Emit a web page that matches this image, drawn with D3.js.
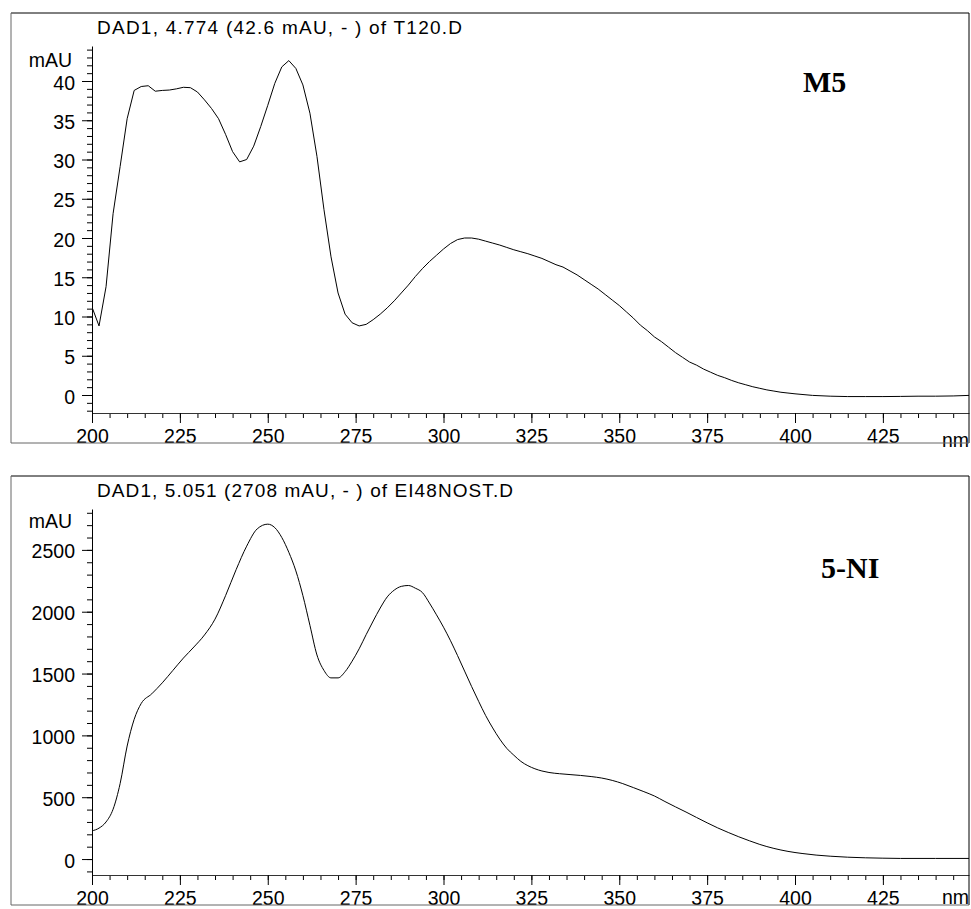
<!DOCTYPE html>
<html>
<head>
<meta charset="utf-8">
<script src="https://cdn.jsdelivr.net/npm/d3@7"></script>
<style>
  body { margin: 0; background: #fff; }
  text { font-family: Arial, "Liberation Sans", sans-serif; }
</style>
</head>
<body>
<div id="chart"></div>
<script>
/* DATA */
const m5Nm = [200,202,204,206,208,210,212,214,216,218,220,222,224,226,228,230,232,234,236,238,240,242,244,246,248,250,252,254,256,258,260,262,264,266,268,270,272,274,276,278,280,282,284,286,288,290,292,294,296,298,300,302,304,306,308,310,312,314,316,318,320,322,324,326,328,330,332,334,336,338,340,342,344,346,348,350,352,354,356,358,360,362,364,366,368,370,372,374,376,378,380,382,384,386,388,390,392,394,396,398,400,405,410,415,420,425,430,435,440,445,449.5];
const m5Abs = [11.2,8.8,13.8,23.1,29.1,35.2,38.8,39.3,39.4,38.7,38.8,38.85,39.0,39.2,39.15,38.6,37.6,36.5,35.2,33.2,31.0,29.7,30.0,31.7,34.2,36.9,39.7,41.8,42.6,41.6,39.5,35.9,30.4,23.6,17.6,13.0,10.3,9.2,8.8,9.0,9.6,10.3,11.1,12.0,13.0,14.0,15.1,16.1,17.0,17.8,18.6,19.3,19.8,20.0,20.0,19.85,19.6,19.35,19.1,18.8,18.5,18.25,18.0,17.7,17.4,17.0,16.6,16.3,15.8,15.3,14.7,14.1,13.5,12.8,12.1,11.4,10.6,9.8,8.9,8.2,7.4,6.8,6.1,5.4,4.8,4.2,3.8,3.3,2.9,2.5,2.2,1.85,1.55,1.3,1.05,0.85,0.65,0.5,0.35,0.25,0.15,-0.05,-0.15,-0.2,-0.2,-0.2,-0.18,-0.15,-0.15,-0.12,-0.05];

const niNm = [200,202,204,206,208,210,212,214,217,220,223,226,229,232,235,238,241,244,247,250,252,254,256,258,260,262,264,266,268,270,272,274,276,278,280,282,284,286,288,290,292,294,296,298,300,302,304,306,308,310,312,314,316,318,320,322,324,326,328,330,333,336,339,342,345,348,351,354,357,360,363,366,369,372,375,378,381,384,387,390,394,398,402,406,410,415,420,425,430,440,449.5];
const niAbs = [228,250,300,403,610,914,1130,1258,1336,1425,1525,1625,1715,1812,1940,2130,2340,2530,2670,2708,2680,2600,2480,2330,2130,1890,1650,1525,1465,1465,1515,1600,1700,1815,1925,2030,2120,2175,2205,2212,2190,2155,2070,1975,1875,1765,1645,1520,1395,1275,1160,1060,970,895,840,790,755,730,712,700,690,683,676,667,655,636,610,578,545,510,465,422,380,336,293,252,215,180,148,118,86,62,45,32,23,15,10,7,5,5,5];

const xMajor = [200,225,250,275,300,325,350,375,400,425];
const m5Major = [0,5,10,15,20,25,30,35,40];
const niMajor = [0,500,1000,1500,2000,2500];

const titles = ["DAD1, 4.774 (42.6 mAU, - ) of T120.D", "DAD1, 5.051 (2708 mAU, - ) of EI48NOST.D"];
const labels = ["M5", "5-NI"];

/* LAYOUT */
const width = 971, height = 909;
const left = 92, right = 969, frameLeft = 11;

const svg = d3.select("#chart").append("svg")
  .attr("width", width).attr("height", height);

const xScale = d3.scaleLinear().domain([200, 449.5]).range([left, right]);

const panels = [
  { top: 13, bottom: 443, nm: m5Nm, abs: m5Abs, major: m5Major, minorStep: 1,
    domain: [-2.293, 44.46], title: titles[0], titleLen: 365, label: labels[0],
    labelX: 803, labelY: 92, unitY: 67, nmY: 447, curve: d3.curveLinear },
  { top: 476, bottom: 905, nm: niNm, abs: niAbs, major: niMajor, minorStep: 100,
    domain: [-129, 2830.6], title: titles[1], titleLen: 416, label: labels[1],
    labelX: 821, labelY: 578, unitY: 528, nmY: 904, curve: d3.curveMonotoneX }
];

panels.forEach((p, i) => {
  const g = svg.append("g").attr("class", "panel-" + i);
  const axisTop = p.top + 33, axisBottom = p.bottom - 30;

  const yScale = d3.scaleLinear().domain(p.domain).range([axisBottom, axisTop]);

  // minor ticks first
  const yMinor = d3.range(Math.ceil(p.domain[0] / p.minorStep) * p.minorStep, p.domain[1], p.minorStep);
  g.append("g")
    .attr("transform", `translate(${left},0)`)
    .call(d3.axisLeft(yScale).tickValues(yMinor).tickSize(5).tickFormat(""))
    .call(a => a.select(".domain").remove());

  g.append("g")
    .attr("transform", `translate(0,${axisBottom})`)
    .call(d3.axisBottom(xScale).tickValues(d3.range(200, 449, 5)).tickSize(5).tickFormat(""))
    .call(a => a.select(".domain").remove());

  // major axes
  g.append("g")
    .attr("class", "y-axis")
    .attr("transform", `translate(${left},0)`)
    .call(d3.axisLeft(yScale).tickValues(p.major).tickSize(10).tickSizeOuter(0).tickPadding(7).tickFormat(d3.format("d")))
    .attr("font-size", 19.5)
    .attr("font-family", null)
    .call(a => a.selectAll("text").attr("dy", "0.41em"));

  g.append("g")
    .attr("class", "x-axis")
    .attr("transform", `translate(0,${axisBottom})`)
    .call(d3.axisBottom(xScale).tickValues(xMajor).tickSize(10).tickSizeOuter(0).tickPadding(6).tickFormat(d3.format("d")))
    .attr("font-size", 19.5)
    .attr("font-family", null)
    .call(a => a.select(".domain").attr("stroke", "#333"));

  // spectrum
  const clipId = "clip" + i;
  g.append("clipPath").attr("id", clipId)
    .append("rect")
    .attr("x", left).attr("y", p.top)
    .attr("width", right - left).attr("height", axisBottom - p.top);

  const line = d3.line()
    .x(d => xScale(d[0]))
    .y(d => yScale(d[1]))
    .curve(p.curve);

  g.append("path")
    .datum(d3.zip(p.nm, p.abs))
    .attr("clip-path", `url(#${clipId})`)
    .attr("fill", "none")
    .attr("stroke", "#000")
    .attr("stroke-width", 1)
    .attr("d", line);

  // texts
  g.append("text")
    .attr("x", 97).attr("y", p.top + 21)
    .attr("font-size", 19)
    .attr("textLength", p.titleLen)
    .attr("lengthAdjust", "spacing")
    .text(p.title);

  g.append("text")
    .attr("x", 72).attr("y", p.unitY)
    .attr("text-anchor", "end")
    .attr("font-size", 19.5)
    .text("mAU");

  g.append("text")
    .attr("x", 942).attr("y", p.nmY)
    .attr("font-size", 19.5)
    .text("nm");

  g.append("text")
    .attr("x", p.labelX).attr("y", p.labelY)
    .style("font-family", "'Times New Roman', 'Liberation Serif', serif")
    .attr("font-weight", "bold")
    .attr("font-size", 30)
    .text(p.label);

  // frame
  g.append("line").attr("x1", frameLeft).attr("x2", right).attr("y1", p.top).attr("y2", p.top).attr("stroke", "#000");
  g.append("line").attr("x1", right).attr("x2", right).attr("y1", p.top).attr("y2", p.bottom).attr("stroke", "#000");
  g.append("line").attr("x1", frameLeft).attr("x2", frameLeft).attr("y1", p.top).attr("y2", p.bottom).attr("stroke", "#666");
  g.append("line").attr("x1", frameLeft).attr("x2", right).attr("y1", p.bottom).attr("y2", p.bottom).attr("stroke", "#666");
});
</script>
</body>
</html>
